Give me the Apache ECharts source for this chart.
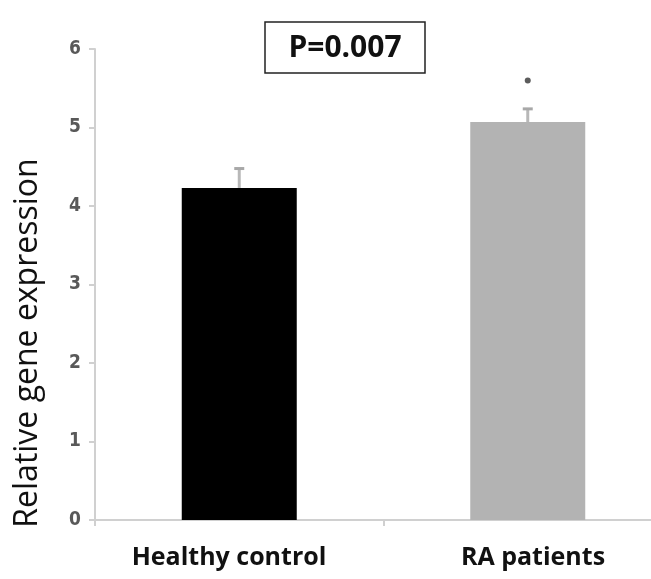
<!DOCTYPE html>
<html><head><meta charset="utf-8">
<script src="https://cdn.jsdelivr.net/npm/echarts@6/dist/echarts.min.js"></script>
<style>html,body{margin:0;padding:0;background:#fff}#c{width:651px;height:579px}</style>
</head><body><div id="c"></div>
<script>
const categories = ['Healthy control', 'RA patients'];
const means = [4.23, 5.07];
const errUpper = [4.49, 5.25];
const starValues = [null, 5.6];
const yTicks = [0, 1, 2, 3, 4, 5, 6];
const barColors = ['#000000', '#b3b3b3'];
const pText = 'P=0.007';
const yTitle = 'Relative gene expression';

const chart = echarts.init(document.getElementById('c'));
chart.setOption({
  animation: false,
  backgroundColor: '#fff',
  grid: { left: 95, width: 577, top: 49, height: 471, containLabel: false, outerBoundsMode: 'none' },
  xAxis: {
    type: 'category', data: categories,
    axisLine: { lineStyle: { color: '#d0d0d0', width: 2 } },
    axisTick: { show: true, length: 6, lineStyle: { color: '#d0d0d0', width: 2 } },
    axisLabel: { show: false }
  },
  yAxis: {
    type: 'value', min: yTicks[0], max: yTicks[yTicks.length - 1], interval: 1,
    splitLine: { show: false },
    axisLine: { show: true, lineStyle: { color: '#d0d0d0', width: 2 } },
    axisTick: { show: true, length: 6, lineStyle: { color: '#d0d0d0', width: 2 } },
    axisLabel: { color: '#595959', fontSize: 19, fontWeight: 'bold', fontFamily: '"DejaVu Sans Condensed", "DejaVu Sans"', margin: 14 }
  },
  series: [
    {
      type: 'bar', barWidth: 115,
      data: means.map((v, i) => ({ value: v, itemStyle: { color: barColors[i] } }))
    },
    {
      type: 'custom',
      renderItem: function (params, api) {
        const i = api.value(0);
        const base = api.coord([i, means[i]]);
        const top = api.coord([i, api.value(1)]);
        return {
          type: 'group', children: [
            { type: 'line', shape: { x1: base[0], y1: base[1], x2: top[0], y2: top[1] + 1 }, style: { stroke: '#b8b8b8', lineWidth: 3 } },
            { type: 'line', shape: { x1: top[0] - 5, y1: top[1] + 1, x2: top[0] + 5, y2: top[1] + 1 }, style: { stroke: '#a8a8a8', lineWidth: 3 } }
          ]
        };
      },
      data: errUpper.map((v, i) => [i, v]),
      z: 3
    },
    {
      type: 'scatter', symbol: 'circle', symbolSize: 6,
      itemStyle: { color: '#333' },
      data: starValues.map((v, i) => v == null ? null : [i, v]).filter(d => d)
    }
  ],
  graphic: [
    { type: 'rect', shape: { x: 265, y: 22, width: 160, height: 51 }, style: { fill: '#fff', stroke: '#222', lineWidth: 1.5 } },
    { type: 'text', x: 345, y: 48, style: { text: pText, font: 'bold 30px "Open Sans"', fill: '#111', textAlign: 'center', textVerticalAlign: 'middle' } },
    { type: 'text', x: 28, y: 343, rotation: Math.PI / 2, style: { text: yTitle, font: '32px "Open Sans"', fill: '#111', textAlign: 'center', textVerticalAlign: 'middle' } },
    { type: 'text', x: 229, y: 558, style: { text: categories[0], font: 'bold 25px "Open Sans"', fill: '#111', textAlign: 'center', textVerticalAlign: 'middle' } },
    { type: 'text', x: 533, y: 558, style: { text: categories[1], font: 'bold 25px "Open Sans"', fill: '#111', textAlign: 'center', textVerticalAlign: 'middle' } }
  ]
});
</script></body></html>
